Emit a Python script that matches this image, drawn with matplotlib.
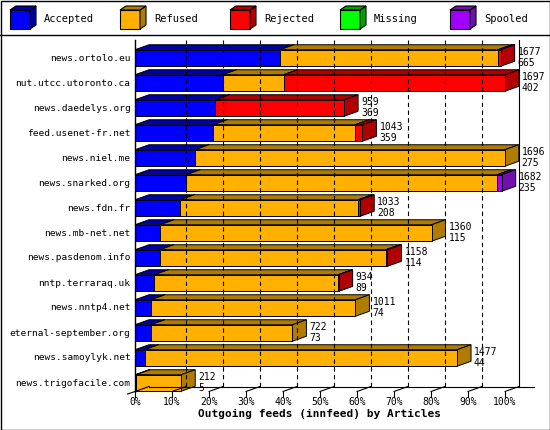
import matplotlib
matplotlib.use("Agg")
import matplotlib.pyplot as plt
from matplotlib.patches import Polygon, Rectangle

hosts = ["news.ortolo.eu", "nut.utcc.utoronto.ca", "news.daedelys.org",
         "feed.usenet-fr.net", "news.niel.me", "news.snarked.org",
         "news.fdn.fr", "news.mb-net.net", "news.pasdenom.info",
         "nntp.terraraq.uk", "news.nntp4.net", "eternal-september.org",
         "news.samoylyk.net", "news.trigofacile.com"]
totals = [1677, 1697, 959, 1043, 1696, 1682, 1033, 1360, 1158, 934, 1011, 722, 1477, 212]
accepted = [665, 402, 369, 359, 275, 235, 208, 115, 114, 89, 74, 73, 44, 5]
refused = [1000, 280, 0, 651, 1421, 1426, 816, 1245, 1036, 844, 937, 649, 1433, 207]
rejected = [12, 1015, 590, 33, 0, 0, 9, 0, 8, 1, 0, 0, 0, 0]
missing = [0] * 14
spooled = [0, 0, 0, 0, 0, 21, 0, 0, 0, 0, 0, 0, 0, 0]

series = ["Accepted", "Refused", "Rejected", "Missing", "Spooled"]
front = ["#0000ff", "#ffb000", "#ff0000", "#00ff00", "#a000ff"]
dark = ["#0000a8", "#b07c00", "#b00000", "#00a000", "#7010b0"]
values = [accepted, refused, rejected, missing, spooled]

mono = "DejaVu Sans Mono"
fig = plt.figure(figsize=(5.5, 4.3), dpi=100)

# outer frames
frame = fig.add_axes([0, 0, 1, 1])
frame.set_xlim(0, 550)
frame.set_ylim(430, 0)
frame.axis("off")
frame.add_patch(Rectangle((0.5, 0.5), 549, 429, fill=False, lw=1, ec="black"))
frame.plot([0, 550], [35, 35], color="black", lw=1)

# legend
lx = [10, 120, 230, 340, 450]
for i, name in enumerate(series):
    x0 = lx[i]
    frame.add_patch(Polygon([(x0, 10), (x0 + 20, 10), (x0 + 20, 29), (x0, 29)],
                            closed=True, fc=front[i], ec="black", lw=0.8))
    frame.add_patch(Polygon([(x0 + 20, 10), (x0 + 26, 6), (x0 + 26, 25), (x0 + 20, 29)],
                            closed=True, fc=dark[i], ec="black", lw=0.8))
    frame.add_patch(Polygon([(x0, 10), (x0 + 6, 6), (x0 + 26, 6), (x0 + 20, 10)],
                            closed=True, fc=dark[i], ec="black", lw=0.8))
    frame.text(x0 + 34, 19, name, fontsize=7.5, family=mono, va="center")

ax = fig.add_axes([135 / 550, 35 / 430, 370 / 550, 355 / 430])
ax.set_xlim(0, 100)
ax.set_ylim(13.48, -0.72)
ax.axis("off")
dx = 14 / 3.7
dy = 0.2
h = 0.66
vmax = max(totals)

# back wall grid
for k in range(1, 11):
    x = k * 10 + dx
    ax.plot([x, x], [-0.72, 13.34 - dy], color="black", lw=0.8,
            ls=(0, (4, 3)) if k < 10 else "-", clip_on=False)
ax.plot([dx, 100 + dx + 4], [13.34 - dy, 13.34 - dy], color="black", lw=0.8, clip_on=False)
ax.plot([0, 0], [-0.72, 13.34], color="black", lw=1, clip_on=False)
ax.plot([-2, 0], [13.44, 13.34], color="black", lw=0.8, clip_on=False)
for k in range(0, 11):
    x = k * 10
    ax.plot([x, x], [13.34, 13.55], color="black", lw=0.8, clip_on=False)
    ax.plot([x, x + dx], [13.34, 13.34 - dy], color="black", lw=0.8, clip_on=False)
    ax.text(x, 13.75, f"{k * 10}%", fontsize=7, family=mono, ha="center", va="center")
ax.text(50, 14.25, "Outgoing feeds (innfeed) by Articles", fontsize=8,
        family=mono, weight="bold", ha="center", va="center")

for r, host in enumerate(hosts):
    yb = r + h / 2
    yt = r - h / 2
    left = 0.0
    for s in range(len(series)):
        v = values[s][r]
        if v <= 0:
            continue
        w = v / vmax * 100
        x1 = left + w
        ax.add_patch(Polygon([(left, yt), (left + dx, yt - dy), (x1 + dx, yt - dy), (x1, yt)],
                             closed=True, fc=dark[s], ec="black", lw=0.7, clip_on=False))
        ax.add_patch(Polygon([(x1, yt), (x1 + dx, yt - dy), (x1 + dx, yb - dy), (x1, yb)],
                             closed=True, fc=dark[s], ec="black", lw=0.7, clip_on=False))
        ax.add_patch(Rectangle((left, yt), w, h, fc=front[s], ec="black", lw=0.7, clip_on=False))
        left = x1
    ax.text(-1.2, r, host, fontsize=6.8, family=mono, ha="right", va="center")
    ax.text(left + dx + 0.8, r - 0.25, str(totals[r]), fontsize=7, family=mono, va="center")
    ax.text(left + dx + 0.8, r + 0.2, str(accepted[r]), fontsize=7, family=mono, va="center")

fig.savefig("out.png", dpi=100)
